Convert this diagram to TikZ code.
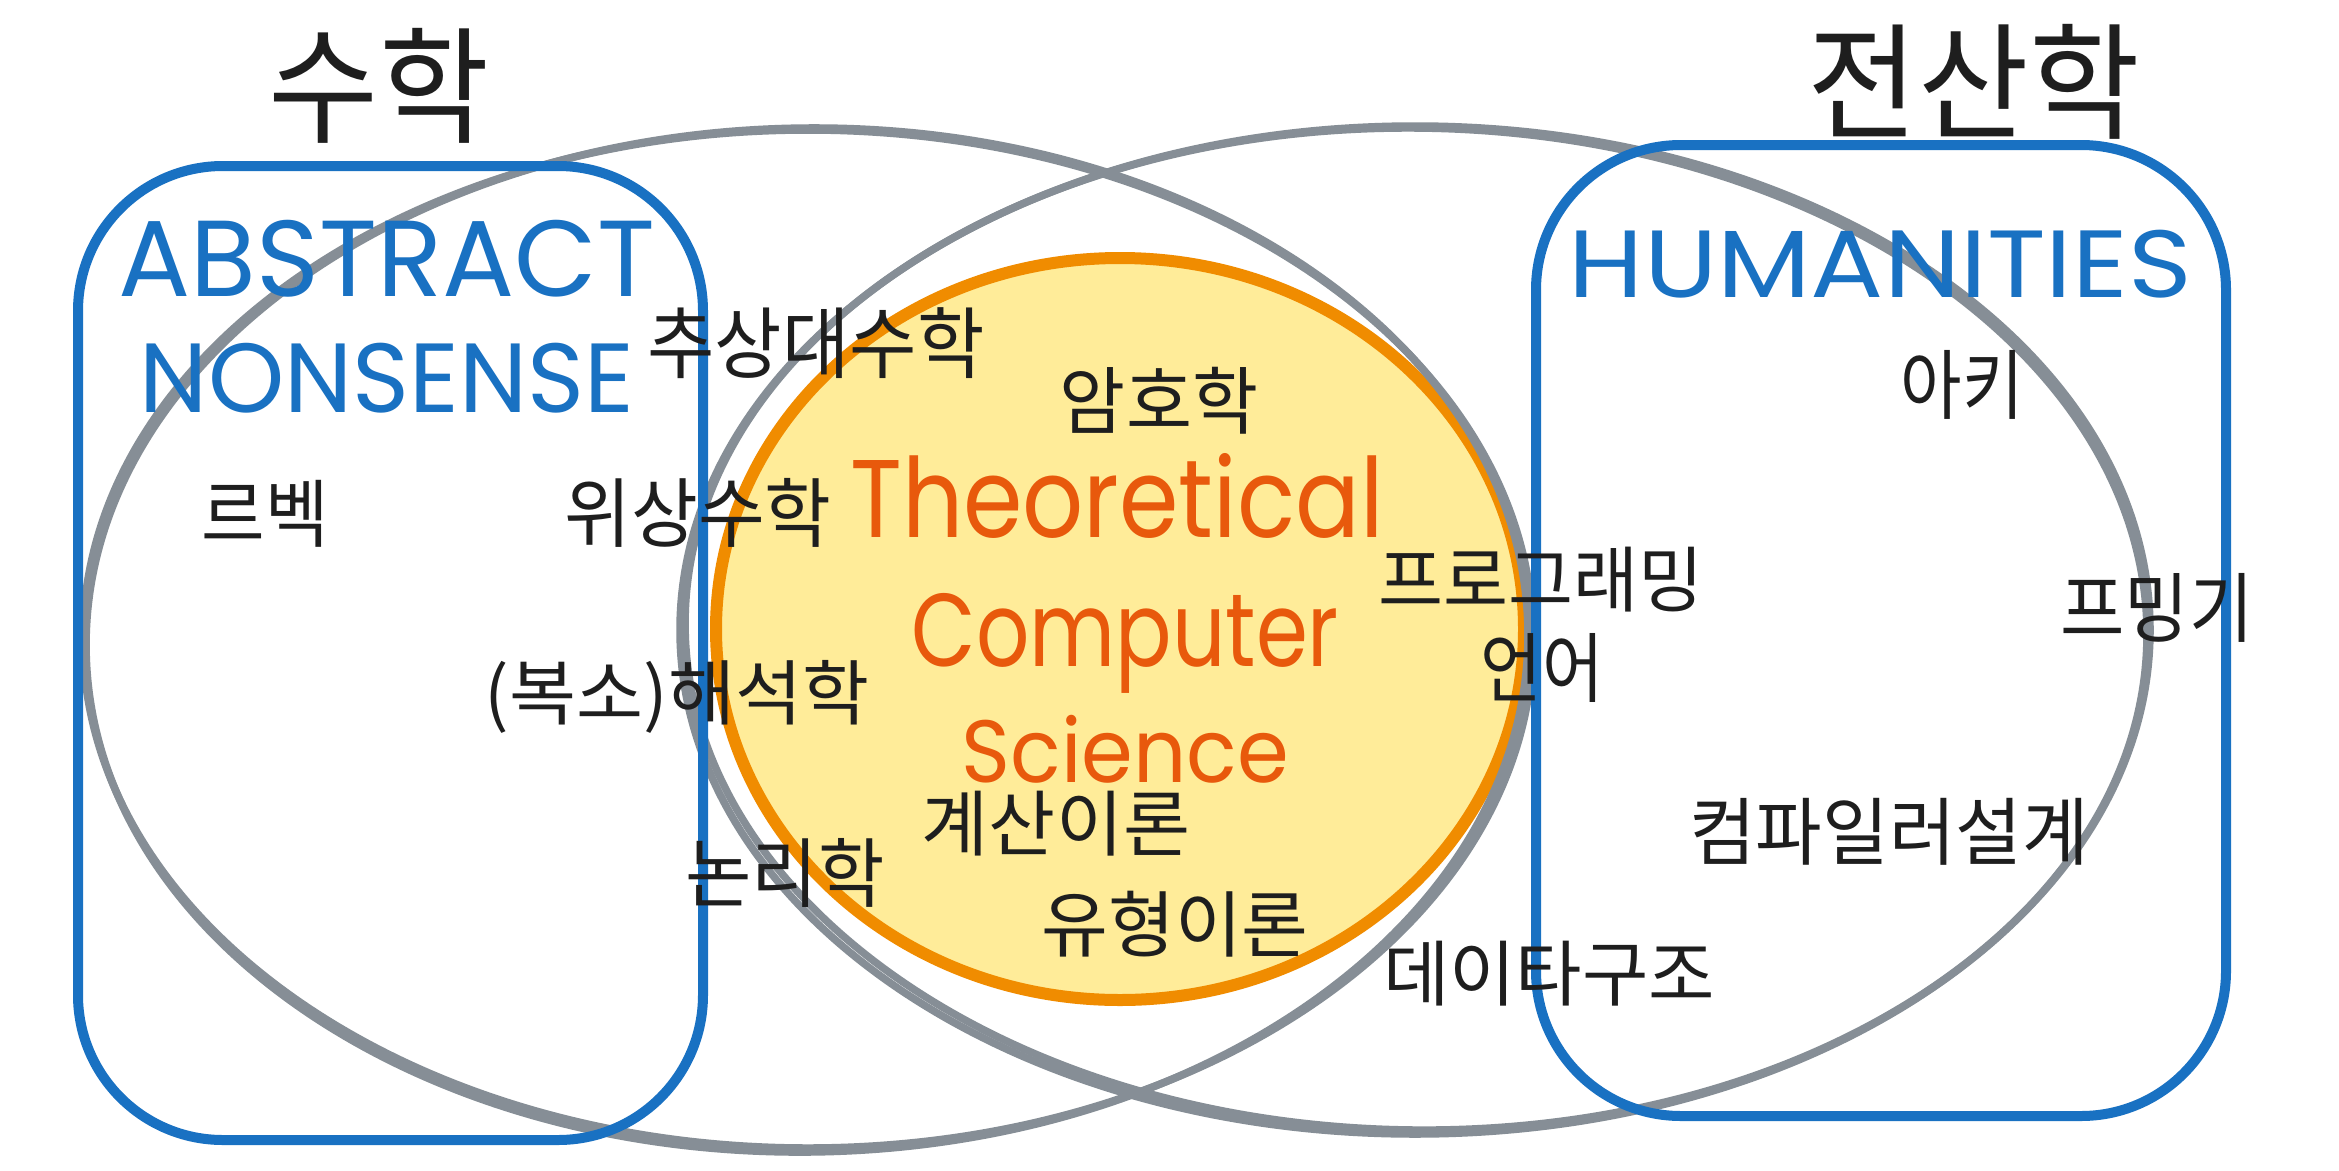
\documentclass[tikz,border=0pt]{standalone}
\usepackage{fontspec}
\usepackage{graphicx}
\newfontfamily\kr{Noto Sans CJK KR}
\newfontfamily\hand{Poppins}
\definecolor{exgray}{HTML}{868E96}
\definecolor{exblue}{HTML}{1971C2}
\definecolor{exorange}{HTML}{F08C00}
\definecolor{extext}{HTML}{E8590C}
\definecolor{exyellow}{HTML}{FFEC99}
\definecolor{ink}{HTML}{1E1E1E}
\newcommand\fitto[3]{\resizebox*{#1pt}{#2pt}{#3}}
\begin{document}
\begin{tikzpicture}[x=1pt,y=-1pt,
  setline/.style={draw=exgray, line width=7.5pt},
  boxline/.style={draw=exblue, line width=10pt, rounded corners=145pt},
  tcsline/.style={draw=exorange, fill=exyellow, line width=12pt},
  kr/.style={inner sep=0pt, text=ink, font=\kr},
  blue/.style={inner sep=0pt, text=exblue, font=\hand},
  tcs/.style={inner sep=0pt, text=extext, font=\hand}]
\useasboundingbox[fill=white] (0,0) rectangle (2339,1170);
% TCS circle
\path[tcsline] (1120,629) ellipse [x radius=404, y radius=371];
% set ellipses (sketchy double strokes)
\draw[setline] (808,639) ellipse [x radius=725, y radius=509];
\draw[setline, rotate around={0.8:(808,639)}] (807,640) ellipse [x radius=721, y radius=512];
\draw[setline] (1415,630) ellipse [x radius=735, y radius=504];
\draw[setline, rotate around={-0.8:(1415,630)}] (1416,629) ellipse [x radius=731, y radius=501];
% blue boxes
\draw[boxline] (78,166) rectangle (703,1140);
\draw[boxline] (1536,145) rectangle (2226,1116);
% titles
\node[kr] (math) at (379,86) {\fitto{220}{115}{수학}};
\node[kr] (cs) at (1974,82) {\fitto{332}{115}{전산학}};
% blue handwritten
\node[blue] (abs1) at (387,258.5) {\fitto{536}{77}{ABSTRACT}};
\node[blue] (abs2) at (387,378) {\fitto{494}{70}{NONSENSE}};
\node[blue] (hum) at (1880.5,264) {\fitto{623}{68}{HUMANITIES}};
% orange TCS
\node[tcs] (t1) at (1117,495.5) {\fitto{533}{85}{Theoretical}};
\node[tcs] (t2) at (1125.5,643) {\fitto{427}{100}{Computer}};
\node[tcs] (t3) at (1125.5,749) {\fitto{327}{68}{Science}};
% korean labels
\node[kr] (l1) at (816,343) {\fitto{337}{71}{추상대수학}};
\node[kr] (l2) at (1159,401) {\fitto{198}{67}{암호학}};
\node[kr] (l3) at (265,514) {\fitto{127}{67}{르벡}};
\node[kr] (l4) at (698,513) {\fitto{267}{69}{위상수학}};
\node[kr] (l5) at (1541,580) {\fitto{325}{65}{프로그래밍}};
\node[kr] (l6) at (1542,668) {\fitto{123}{69}{언어}};
\node[kr] (l7) at (1962,385) {\fitto{123}{69}{아키}};
\node[kr] (l8) at (2157,608) {\fitto{193}{69}{프밍기}};
\node[kr] (l9) at (677,697) {\fitto{384}{73}{(복소)해석학}};
\node[kr] (l10) at (1056,824) {\fitto{268}{65}{계산이론}};
\node[kr] (l11) at (785,873) {\fitto{199}{69}{논리학}};
\node[kr] (l12) at (1175,924) {\fitto{267}{66}{유형이론}};
\node[kr] (l13) at (1889,832) {\fitto{399}{67}{컴파일러설계}};
\node[kr] (l14) at (1549,974) {\fitto{332}{65}{데이타구조}};
\end{tikzpicture}
\end{document}
